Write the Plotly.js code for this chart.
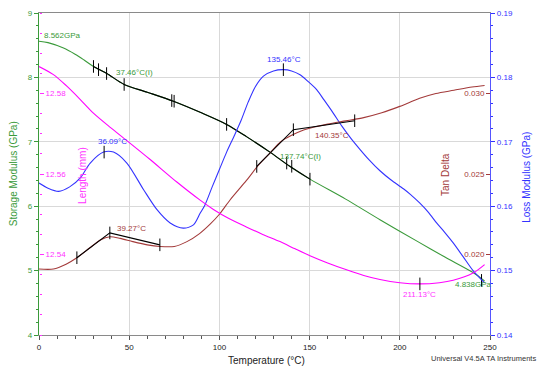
<!DOCTYPE html>
<html>
<head>
<meta charset="utf-8">
<script src="https://cdn.plot.ly/plotly-3.0.1.min.js"></script>
<style>html,body{margin:0;padding:0;background:#fff;}#chart{width:550px;height:373px;}</style>
</head>
<body>
<div id="chart"></div>
<script>
// ---- Data ----
var storageT = [0, 5, 13.6, 20, 25, 30.2, 37.6, 47.2, 60, 74.5, 90, 104, 115, 128, 139, 150.2, 170, 189, 210, 225, 240.6, 247];
var storageE = [8.562, 8.54, 8.456, 8.36, 8.27, 8.17, 8.06, 7.89, 7.77, 7.63, 7.45, 7.27, 7.08, 6.84, 6.62, 6.42, 6.11, 5.79, 5.45, 5.21, 4.97, 4.838];

var storageTanT = [30.2, 37.6, 47.2, 60, 74.5, 90, 104, 115, 128, 139, 150.2];
var storageTanE = [8.17, 8.06, 7.89, 7.77, 7.63, 7.45, 7.27, 7.08, 6.84, 6.62, 6.42];
var storageMarkT = [30.2, 33, 37.46, 47.2, 73.6, 74.9, 104, 137.3, 140.1, 150.2, 245.3];
var storageMarkE = [8.17, 8.12, 8.06, 7.89, 7.64, 7.63, 7.27, 6.67, 6.62, 6.42, 4.848];

var lossT = [0, 5, 10.9, 17, 22.9, 28.4, 35.8, 41.3, 48.7, 57.9, 65.3, 72.7, 80, 85.6, 89.3, 92, 96, 100, 104, 108, 112, 116, 120, 124.4, 130, 135.5, 140, 144.7, 149, 153.9, 158, 163, 168, 173, 178, 183, 189, 195, 202, 206, 211, 216, 220.4, 225, 229.6, 235, 240.6, 247];
var lossE = [0.1636, 0.1628, 0.1623, 0.1630, 0.1644, 0.1667, 0.1684, 0.1684, 0.1667, 0.1626, 0.1595, 0.1574, 0.1566, 0.1571, 0.1589, 0.1602, 0.1630, 0.1657, 0.1684, 0.1708, 0.1733, 0.1762, 0.1786, 0.1802, 0.1810, 0.1812, 0.1810, 0.1804, 0.1794, 0.1781, 0.1765, 0.1745, 0.1724, 0.1705, 0.1688, 0.1672, 0.1655, 0.1641, 0.1627, 0.1618, 0.1605, 0.1590, 0.1574, 0.1559, 0.1543, 0.1522, 0.1500, 0.1481];
var lossMarkT = [36.09, 135.46];
var lossMarkE = [0.1684, 0.1812];

var lengthT = [0, 8, 15, 22.9, 30, 39.5, 48.7, 61.6, 76.4, 89.3, 96.7, 105, 115.2, 124, 133.6, 142, 150.2, 160, 170.5, 180, 189, 200, 211, 222, 229.6, 240.6, 247];
var lengthL = [12.5867, 12.5847, 12.5820, 12.5785, 12.5752, 12.5716, 12.5683, 12.5636, 12.5580, 12.5535, 12.5512, 12.5490, 12.5468, 12.5450, 12.5432, 12.5414, 12.5397, 12.5379, 12.5362, 12.5348, 12.5338, 12.5330, 12.5327, 12.5330, 12.5336, 12.5354, 12.5375];
var lengthMarkT = [211.13];
var lengthMarkL = [12.5327];

var tanT = [0, 8, 15, 21, 28, 34, 39.3, 45, 52, 60, 67, 75, 82, 89, 95, 100, 106, 115, 122, 128, 134, 140, 146, 152, 160, 170, 180, 190, 200, 211, 220, 230, 240, 247];
var tanD = [0.0191, 0.0191, 0.0194, 0.0198, 0.0204, 0.0209, 0.0211, 0.0210, 0.0208, 0.0206, 0.0205, 0.0205, 0.0208, 0.0213, 0.0219, 0.0225, 0.0234, 0.0246, 0.0256, 0.0263, 0.0270, 0.0274, 0.0277, 0.0279, 0.0281, 0.0283, 0.0285, 0.0288, 0.0292, 0.0297, 0.0300, 0.0302, 0.0304, 0.0305];
var tanLine1T = [21, 39.27, 67];
var tanLine1D = [0.0198, 0.02134, 0.0206];
var tanLine2T = [120.7, 141, 175];
var tanLine2D = [0.02547, 0.02775, 0.02831];
var tanMarkT = [21, 39.27, 67, 120.7, 141, 175];
var tanMarkD = [0.0198, 0.02134, 0.0206, 0.02547, 0.02775, 0.02831];

var lengthTicks = [12.54, 12.56, 12.58];
var tanTicks = [0.020, 0.025, 0.030];

// ---- Styles ----
var FONT = 'Liberation Sans, Arial, sans-serif';
var GREEN = '#3a9a3a', BLUE = '#3333ff', RED = '#a33a3a', MAG = '#ff00ff', MAGT = '#ff33ff';

function line(x, y, color, yaxis, w, smooth) {
  var ln = {color: color, width: w || 1.1};
  if (smooth) { ln.shape = 'spline'; ln.smoothing = 0.8; }
  return {x: x, y: y, type: 'scatter', mode: 'lines', yaxis: yaxis,
          line: ln, hoverinfo: 'skip', showlegend: false};
}
function marks(x, y, yaxis) {
  return {x: x, y: y, type: 'scatter', mode: 'markers', yaxis: yaxis,
          marker: {symbol: 'line-ns-open', size: 9, color: '#000', line: {color: '#000', width: 1}},
          hoverinfo: 'skip', showlegend: false};
}

var traces = [
  line(storageT, storageE, GREEN, 'y', 1.1, true),
  line(lossT, lossE, BLUE, 'y2', 1.1, true),
  line(lengthT, lengthL, MAG, 'y4', 1.1, true),
  line(tanT, tanD, RED, 'y3', 1.1, true),
  line(storageTanT, storageTanE, '#000', 'y', 1.1, true),
  line(tanLine1T, tanLine1D, '#000', 'y3', 1.1),
  line(tanLine2T, tanLine2D, '#000', 'y3', 1.1),
  marks(storageMarkT, storageMarkE, 'y'),
  marks(lossMarkT, lossMarkE, 'y2'),
  marks(lengthMarkT, lengthMarkL, 'y4'),
  marks(tanMarkT, tanMarkD, 'y3')
];

function ann(text, x, y, color, xanchor) {
  return {text: text, x: x, y: y, xref: 'x', yref: 'y', showarrow: false,
          xanchor: xanchor || 'center', yanchor: 'middle',
          font: {family: FONT, size: 8, color: color}};
}
function title(text, x, y, color, angle, size) {
  return {text: text, x: x, y: y, xref: 'paper', yref: 'paper', showarrow: false,
          xanchor: 'center', yanchor: 'middle', textangle: angle,
          font: {family: FONT, size: size || 10, color: color}};
}

var layout = {
  width: 550, height: 373,
  margin: {l: 39, r: 60, t: 13, b: 38, pad: 0},
  paper_bgcolor: '#fff', plot_bgcolor: '#fff',
  font: {family: FONT, size: 8},
  showlegend: false,
  xaxis: {
    range: [0, 250], dtick: 50, tick0: 0, showgrid: true, gridcolor: '#d9d9d9', gridwidth: 1,
    zeroline: false, showline: true, linecolor: '#8a8a8a', linewidth: 1, mirror: true,
    ticks: 'outside', ticklen: 4, tickcolor: '#555', tickfont: {size: 8, color: '#222'},
    minor: {dtick: 10, ticks: 'outside', ticklen: 3, tickcolor: '#555', showgrid: false}
  },
  yaxis: {
    range: [4, 9], dtick: 1, tick0: 4, showgrid: true, gridcolor: '#d9d9d9',
    zeroline: false, showline: true, linecolor: GREEN, linewidth: 1.2,
    ticks: 'outside', ticklen: 4, tickcolor: GREEN, tickfont: {size: 8, color: GREEN},
    minor: {dtick: 0.2, ticks: 'outside', ticklen: 2, tickcolor: GREEN, showgrid: false}
  },
  yaxis2: {
    range: [0.14, 0.19], dtick: 0.01, tick0: 0.14, tickformat: '.2f', overlaying: 'y', side: 'right',
    anchor: 'x', showgrid: false, zeroline: false, showline: true, linecolor: '#5555ff', linewidth: 1.2,
    ticks: 'outside', ticklen: 4, tickcolor: BLUE, tickfont: {size: 8, color: BLUE},
    minor: {dtick: 0.002, ticks: 'outside', ticklen: 2, tickcolor: BLUE, showgrid: false}
  },
  yaxis3: {
    range: [0.015, 0.035], tickvals: tanTicks, tickformat: '.3f', overlaying: 'y', side: 'left',
    anchor: 'free', position: 1, showgrid: false, zeroline: false,
    showline: false, ticks: 'outside', ticklen: 4, tickcolor: RED, tickfont: {size: 8, color: RED}
  },
  yaxis4: {
    range: [12.52, 12.60], tickvals: lengthTicks, tickformat: '.2f', overlaying: 'y', side: 'right',
    anchor: 'free', position: 0, showgrid: false, zeroline: false,
    showline: false, ticks: 'outside', ticklen: 4, tickcolor: MAGT, tickfont: {size: 8, color: MAGT},
    minor: {dtick: 0.005, ticks: 'outside', ticklen: 2, tickcolor: MAGT, showgrid: false}
  },
  annotations: [
    ann('8.562GPa', 1.7, 8.648, GREEN, 'left'),
    ann('37.46°C(I)', 41.7, 8.078, GREEN, 'left'),
    ann('36.09°C', 40.9, 7.006, BLUE),
    ann('39.27°C', 42.2, 5.651, RED, 'left'),
    ann('135.46°C', 135.7, 8.275, BLUE),
    ann('140.35°C', 151.9, 7.10, RED, 'left'),
    ann('137.74°C(I)', 132.5, 6.773, GREEN, 'left'),
    ann('211.13°C', 211.1, 4.626, MAGT),
    ann('4.838GPa', 241, 4.792, GREEN),
    title('Storage Modulus (GPa)', -0.057, 0.5, GREEN, -90),
    title('Loss Modulus (GPa)', 1.081, 0.49, BLUE, -90),
    title('Length (mm)', 0.096, 0.495, MAGT, -90),
    title('Tan Delta', 0.9025, 0.497, RED, -90),
    title('Temperature (°C)', 0.504, -0.078, '#222', 0),
    {text: 'Universal V4.5A TA Instruments', x: 1.106, y: -0.072, xref: 'paper', yref: 'paper',
     showarrow: false, xanchor: 'right', yanchor: 'middle', font: {family: FONT, size: 7.5, color: '#333'}}
  ]
};

Plotly.newPlot('chart', traces, layout, {staticPlot: true, displayModeBar: false});
</script>
</body>
</html>
